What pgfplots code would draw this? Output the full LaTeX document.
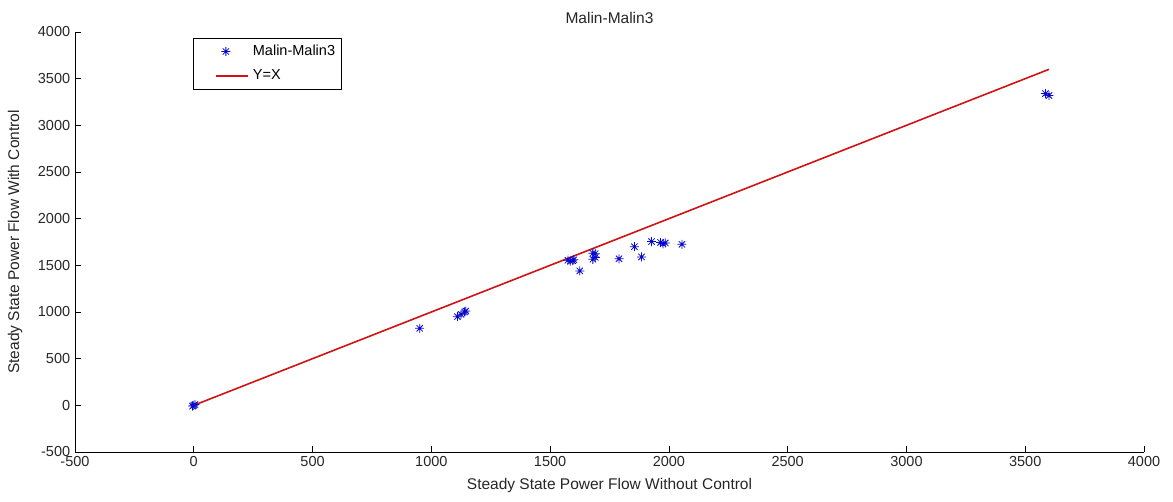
\documentclass[border=0pt]{standalone}
\usepackage{pgfplots}
\pgfplotsset{compat=1.18}
\usepackage{fontspec}
\setmainfont{Liberation Sans}
\definecolor{lineRed}{RGB}{208,18,18}
\definecolor{markBlue}{RGB}{8,8,205}

% eight-ray asterisk: a plus overlaid with a cross
\pgfdeclareplotmark{mstar}{%
  \pgfpathmoveto{\pgfqpoint{-\pgfplotmarksize}{0pt}}%
  \pgfpathlineto{\pgfqpoint{\pgfplotmarksize}{0pt}}%
  \pgfpathmoveto{\pgfqpoint{0pt}{-\pgfplotmarksize}}%
  \pgfpathlineto{\pgfqpoint{0pt}{\pgfplotmarksize}}%
  \pgfpathmoveto{\pgfqpoint{-0.7\pgfplotmarksize}{-0.7\pgfplotmarksize}}%
  \pgfpathlineto{\pgfqpoint{0.7\pgfplotmarksize}{0.7\pgfplotmarksize}}%
  \pgfpathmoveto{\pgfqpoint{-0.7\pgfplotmarksize}{0.7\pgfplotmarksize}}%
  \pgfpathlineto{\pgfqpoint{0.7\pgfplotmarksize}{-0.7\pgfplotmarksize}}%
  \pgfusepathqstroke}

\begin{document}
\fontsize{14}{16}\selectfont
\begin{tikzpicture}
\begin{axis}[
  width=1069pt, height=420pt, scale only axis,
  xmin=-500, xmax=4000, ymin=-500, ymax=4000,
  xtick={-500,0,...,4000}, ytick={-500,0,...,4000},
  axis lines=left, axis line style={-, black, line width=0.6pt},
  tick style={black, line width=0.6pt}, major tick length=6pt,
  tick align=inside,
  /pgf/number format/assume math mode=true,
  /pgf/number format/1000 sep={},
  tick label style={font=\fontsize{14.5}{16}\selectfont, color=black!85},
  label style={font=\fontsize{15.5}{17}\selectfont, color=black!85},
  title style={font=\fontsize{15.5}{17}\selectfont, color=black!85, yshift=-3pt},
  title={Malin-Malin3},
  xlabel={Steady State Power Flow Without Control},
  ylabel={Steady State Power Flow With Control},
  xlabel style={yshift=-2pt},
  ylabel style={yshift=6pt},
  legend style={at={(0.11,0.986)}, anchor=north west, draw=black, line width=0.6pt,
    font=\fontsize{14.5}{16}\selectfont, row sep=8pt, inner xsep=4pt, inner ysep=5pt,
    nodes={inner sep=2pt}},
  legend cell align=left,
]
\addlegendimage{only marks, mark=mstar, mark size=4.5pt, markBlue, line width=0.8pt,
  legend image code/.code={\path[draw=none] (0pt,0pt) -- (54pt,0pt);
    \path[draw=none] plot[only marks] coordinates {(29pt,0pt)};}}
\addlegendentry{Malin-Malin3}
\addlegendimage{lineRed, line width=1.6pt,
  legend image code/.code={\path[draw=none] (0pt,0pt) -- (54pt,0pt); \draw (19pt,0pt) -- (51pt,0pt);}}
\addlegendentry{Y=X}

\addplot[only marks, mark=mstar, mark size=4.5pt, markBlue, line width=0.8pt, forget plot]
  coordinates {
  (0,0) (-5,-8) (5,8)
  (951,825)
  (1110,950) (1125,975) (1140,1000) (1145,1010)
  (1575,1555) (1585,1545) (1595,1550) (1600,1560)
  (1625,1440)
  (1680,1630) (1690,1625) (1680,1565) (1690,1585)
  (1790,1570)
  (1855,1700)
  (1885,1590)
  (1927,1755)
  (1965,1745) (1975,1730) (1985,1740)
  (2055,1725)
  (3585,3340) (3600,3320)
  };
\addplot[lineRed, line width=1.6pt, forget plot] coordinates {(0,0) (3600,3600)};
\end{axis}
\path ([shift={(-75pt,-49pt)}]current axis.south west) rectangle ([shift={(29pt,32pt)}]current axis.north east);
\end{tikzpicture}
\end{document}
